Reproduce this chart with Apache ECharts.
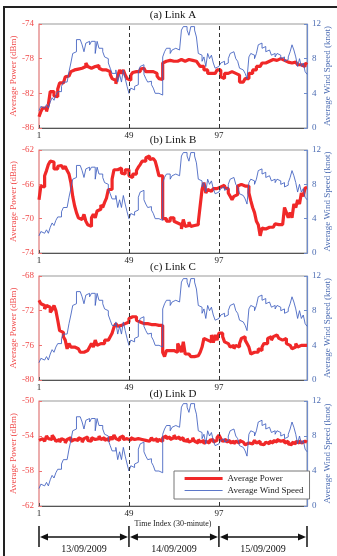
<!DOCTYPE html>
<html>
<head>
<meta charset="utf-8">
<script src="https://cdn.jsdelivr.net/npm/echarts@6/dist/echarts.min.js"></script>
<style>
html,body{margin:0;padding:0;background:#fff;}
#chart{width:337px;height:556px;}
</style>
</head>
<body>
<div id="chart"></div>
<script>
// ---- data (30-minute time index 1..144) ----
const windSpeed = [
 2.0,2.5,2.3,2.3,2.7,2.3,3.0,3.5,3.2,3.8,
 4.2,4.2,4.8,5.3,5.3,5.5,6.5,7.5,8.6,8.8,
 10.2,10.2,10.0,9.6,8.8,9.8,10.0,9.6,10.0,10.0,
 8.6,10.0,9.2,9.2,8.8,8.2,8.0,7.5,6.9,6.3,
 6.3,6.7,5.3,6.2,5.3,6.7,5.7,4.8,4.0,4.6,
 4.4,4.8,5.0,6.5,7.1,7.3,6.2,5.7,5.3,5.4,
 5.0,4.6,4.0,4.0,3.8,3.8,8.2,8.8,9.2,9.2,
 8.6,9.0,9.2,9.2,9.0,8.8,11.3,11.7,11.7,11.3,
 10.7,11.7,11.7,11.3,10.5,8.6,8.4,7.7,8.2,7.1,
 8.6,8.0,8.4,7.5,6.9,7.1,6.9,7.5,7.7,7.3,
 7.5,8.0,8.6,8.8,8.6,8.0,7.7,6.9,6.7,6.5,
 6.3,5.7,8.2,8.6,8.4,8.0,8.6,9.6,9.8,9.2,
 9.4,8.8,9.0,8.8,8.4,8.6,8.2,8.6,8.4,8.0,
 8.2,7.7,7.9,8.2,8.8,9.6,9.0,8.2,7.1,8.0,
 7.1,7.5,6.5,6.2
];
const powerA = [
 -84.7,-84.1,-83.7,-83.7,-84.1,-83.3,-81.8,-81.8,-82.3,-82.4,
 -81.5,-80.8,-80.8,-80.6,-80.1,-80.0,-79.8,-79.5,-79.3,-79.3,
 -79.2,-79.1,-79.1,-78.9,-78.9,-78.5,-78.9,-79.1,-79.0,-78.9,
 -78.7,-78.8,-79.1,-79.3,-79.3,-79.3,-79.3,-79.5,-79.8,-80.3,
 -80.5,-80.9,-80.0,-79.3,-79.7,-79.3,-79.9,-80.3,-80.5,-79.9,
 -79.6,-79.5,-79.3,-79.5,-79.2,-79.1,-79.3,-79.5,-79.5,-79.3,
 -79.5,-79.7,-79.7,-80.0,-80.3,-80.4,-78.5,-78.3,-78.3,-78.2,
 -78.3,-78.3,-78.3,-78.3,-78.1,-78.1,-78.3,-78.3,-78.1,-78.1,
 -78.1,-78.2,-78.2,-78.3,-78.4,-78.6,-78.9,-78.9,-79.3,-79.3,
 -79.7,-79.7,-79.9,-79.7,-79.7,-79.3,-79.3,-80.1,-80.3,-79.7,
 -79.7,-79.5,-79.5,-79.7,-79.7,-79.9,-79.9,-80.7,-80.7,-80.7,
 -80.3,-80.3,-79.7,-79.7,-79.3,-79.3,-78.9,-78.9,-78.7,-78.5,
 -78.5,-78.4,-78.3,-78.1,-78.1,-78.1,-78.2,-78.2,-78.0,-78.0,
 -78.2,-78.3,-78.4,-78.4,-78.5,-78.6,-78.4,-78.4,-78.7,-78.7,
 -78.9,-78.9,-78.5,-78.7
];
const powerB = [
 -67.8,-66.2,-66.3,-65.0,-64.4,-63.7,-63.3,-63.4,-64.2,-64.2,
 -63.9,-63.8,-64.0,-64.2,-63.9,-64.4,-64.8,-65.8,-67.4,-68.5,
 -69.3,-69.9,-70.1,-70.1,-69.5,-70.3,-70.7,-70.9,-69.9,-69.5,
 -69.9,-69.1,-68.9,-68.4,-68.7,-68.1,-67.6,-66.6,-66.6,-65.4,
 -64.3,-64.3,-64.5,-64.1,-64.7,-64.8,-64.3,-64.3,-65.0,-65.2,
 -64.8,-64.8,-64.4,-64.0,-63.7,-63.3,-63.3,-62.9,-62.7,-63.1,
 -63.0,-62.9,-63.3,-64.1,-65.0,-65.0,-70.0,-70.0,-70.3,-70.3,
 -69.9,-69.9,-70.3,-70.5,-70.7,-70.7,-71.2,-70.1,-70.9,-70.8,
 -70.4,-70.9,-70.8,-70.9,-70.7,-70.4,-68.5,-66.6,-65.8,-67.0,
 -66.6,-66.8,-66.6,-66.5,-66.5,-66.3,-66.3,-66.1,-66.1,-66.4,
 -66.5,-67.0,-67.4,-67.8,-67.4,-67.2,-66.2,-66.0,-66.0,-66.2,
 -66.0,-66.2,-67.0,-67.9,-68.7,-69.3,-70.3,-70.7,-72.0,-71.1,
 -71.2,-71.2,-71.0,-71.0,-71.0,-70.8,-70.6,-70.7,-70.9,-70.7,
 -70.6,-68.7,-69.3,-69.9,-69.3,-69.9,-68.3,-68.7,-67.8,-68.3,
 -67.0,-67.4,-66.4,-66.4
];
const powerC = [
 -70.8,-71.2,-71.4,-71.8,-71.4,-71.6,-72.2,-71.9,-71.4,-72.0,
 -73.1,-74.3,-74.5,-75.0,-75.4,-76.4,-75.8,-76.2,-76.2,-76.4,
 -76.4,-76.6,-76.8,-76.8,-76.8,-76.6,-76.4,-76.2,-75.8,-76.2,
 -75.4,-76.0,-75.8,-75.6,-75.8,-75.4,-75.4,-75.4,-75.0,-74.6,
 -73.9,-73.5,-73.8,-73.7,-73.7,-73.5,-73.5,-73.3,-72.9,-72.7,
 -72.5,-72.7,-73.1,-73.3,-73.3,-73.5,-73.3,-73.5,-73.5,-73.6,
 -73.6,-73.6,-73.7,-73.7,-73.7,-73.7,-76.8,-77.3,-76.6,-76.6,
 -76.6,-76.6,-76.4,-76.8,-75.8,-76.2,-76.8,-75.6,-77.0,-77.0,
 -77.2,-77.3,-77.3,-77.3,-77.2,-77.0,-76.8,-76.2,-75.2,-75.4,
 -75.2,-75.6,-74.8,-75.7,-74.8,-75.4,-74.6,-74.6,-75.0,-75.6,
 -75.8,-75.8,-76.2,-76.0,-76.4,-76.0,-76.2,-75.8,-75.2,-75.0,
 -75.4,-75.8,-76.2,-77.0,-76.8,-76.6,-76.8,-76.4,-76.6,-76.2,
 -75.8,-75.8,-75.2,-75.0,-75.4,-75.0,-74.8,-75.0,-75.2,-75.4,
 -75.4,-75.2,-75.8,-76.0,-76.2,-76.4,-76.2,-75.8,-76.2,-76.0,
 -75.8,-76.0,-76.0,-76.0
];
const powerD = [
 -54.5,-54.3,-54.2,-54.6,-54.0,-54.3,-54.4,-53.9,-54.2,-54.6,
 -54.4,-54.7,-54.3,-54.5,-54.8,-54.4,-54.2,-54.6,-54.4,-54.3,
 -54.5,-54.2,-54.4,-54.7,-54.3,-54.1,-54.5,-54.6,-54.2,-54.4,
 -54.6,-54.3,-54.0,-54.4,-54.2,-54.5,-54.3,-54.6,-54.1,-54.4,
 -53.9,-54.3,-54.5,-54.2,-54.0,-54.4,-54.3,-54.1,-54.5,-54.2,
 -54.4,-54.6,-54.3,-54.1,-54.4,-54.2,-54.5,-54.3,-54.6,-54.4,
 -54.2,-54.5,-54.3,-54.7,-54.4,-54.6,-54.2,-54.0,-54.3,-54.1,
 -54.4,-54.2,-53.9,-54.3,-54.1,-54.4,-54.2,-54.5,-54.6,-54.3,
 -54.7,-54.5,-54.2,-54.6,-54.8,-54.4,-54.7,-54.5,-54.9,-54.6,
 -54.8,-54.5,-54.4,-54.7,-54.5,-54.2,-53.9,-54.3,-54.6,-54.4,
 -54.7,-54.5,-54.8,-54.6,-54.9,-54.6,-54.8,-54.5,-54.7,-54.9,
 -55.0,-54.8,-54.6,-54.9,-54.7,-54.5,-54.8,-54.6,-54.9,-55.0,
 -54.8,-54.7,-54.9,-54.6,-54.8,-54.5,-54.7,-54.4,-54.6,-54.8,
 -54.5,-54.8,-54.6,-54.9,-55.0,-54.7,-54.9,-54.6,-54.8,-54.5,
 -54.8,-54.6,-54.7,-54.5
];
const panelTitles = ['(a) Link A', '(b) Link B', '(c) Link C', '(d) Link D'];
const powerTicks = [[-86,-82,-78,-74], [-74,-70,-66,-62], [-80,-76,-72,-68], [-62,-58,-54,-50]];
const windTicks = [0, 4, 8, 12];
const xTicks = [1, 49, 97];
const dayBounds = [1, 49, 97, 144];
const dayLabels = ['13/09/2009', '14/09/2009', '15/09/2009'];
const powerSeries = [powerA, powerB, powerC, powerD];

// ---- styles / layout ----
const FONT = "'Liberation Serif','DejaVu Serif',serif";
const RED = '#f02828';
const RED_TXT = '#f04a4a';
const BLUE = '#3f5fbf';
const BLUE_TXT = '#4d6db3';
const gridTops = [24, 150, 276, 401];
const gridHeights = [104, 103, 104, 105];

const chart = echarts.init(document.getElementById('chart'), null, {renderer: 'canvas'});

const grids = [], xAxes = [], yAxes = [], series = [];
for (let i = 0; i < 4; i++) {
  grids.push({left: 39, right: 30, top: gridTops[i], height: gridHeights[i],
    show: true, borderColor: '#999', borderWidth: 1, backgroundColor: 'transparent',
    containLabel: false, outerBoundsMode: 'none'});
  xAxes.push({type: 'value', gridIndex: i, min: 1, max: 144,
    axisLine: {show: true, onZero: false, lineStyle: {color: '#555', width: 1}},
    axisTick: {show: true, inside: true, length: 3, customValues: xTicks, lineStyle: {color: '#555'}},
    axisLabel: {customValues: xTicks, color: '#222', fontSize: 9, fontFamily: FONT, margin: 3},
    splitLine: {show: false},
    name: i === 3 ? 'Time Index (30-minute)' : '', nameLocation: 'middle', nameGap: 14,
    nameMoveOverlap: false,
    nameTextStyle: {color: '#222', fontSize: 8, fontFamily: FONT}
  });
  const pt = powerTicks[i];
  yAxes.push({type: 'value', gridIndex: i, position: 'left', min: pt[0], max: pt[3],
    axisLine: {show: true, lineStyle: {color: '#f7a3a3', width: 1.5}},
    axisTick: {show: true, inside: true, length: 3, customValues: pt, lineStyle: {color: '#f07070'}},
    axisLabel: {customValues: pt, color: RED_TXT, fontSize: 9, fontFamily: FONT, margin: 5},
    splitLine: {show: false},
    name: 'Average Power (dBm)', nameLocation: 'middle', nameGap: 21, nameRotate: 90,
    nameMoveOverlap: false,
    nameTextStyle: {color: RED_TXT, fontSize: 9, fontFamily: FONT}
  });
  yAxes.push({type: 'value', gridIndex: i, position: 'right', min: 0, max: 12, interval: 4,
    axisLine: {show: true, lineStyle: {color: '#6f8ccc', width: 1.2}},
    axisTick: {show: true, inside: true, length: 3, lineStyle: {color: '#6f8ccc'}},
    axisLabel: {color: BLUE_TXT, fontSize: 9, fontFamily: FONT, margin: 5},
    splitLine: {show: false},
    name: 'Average Wind Speed (knot)', nameLocation: 'middle', nameGap: 16, nameRotate: 90,
    nameMoveOverlap: false,
    nameTextStyle: {color: BLUE_TXT, fontSize: 9, fontFamily: FONT}
  });
  const p = powerSeries[i];
  series.push({name: 'Average Power', type: 'line', xAxisIndex: i, yAxisIndex: 2 * i,
    step: 'end', symbol: 'none', animation: false, z: 3,
    data: p.map((v, k) => [k + 1, v]),
    lineStyle: {color: RED, width: 3.2}, itemStyle: {color: RED},
    markLine: {silent: true, symbol: ['none', 'none'], label: {show: false}, animation: false,
      lineStyle: {type: [4, 3], color: '#333', width: 1},
      data: xTicks.slice(1).map(v => ({xAxis: v}))}
  });
  series.push({name: 'Average Wind Speed', type: 'line', xAxisIndex: i, yAxisIndex: 2 * i + 1,
    step: 'end', symbol: 'none', animation: false, z: 4,
    data: windSpeed.map((v, k) => [k + 1, v]),
    lineStyle: {color: BLUE, width: 1, opacity: 0.85}, itemStyle: {color: BLUE}
  });
}

chart.setOption({
  animation: false,
  backgroundColor: '#fff',
  grid: grids, xAxis: xAxes, yAxis: yAxes, series: series,
  legend: {data: ['Average Power', 'Average Wind Speed'], orient: 'vertical',
    left: 174, top: 471, itemWidth: 38, itemHeight: 10, itemGap: 3,
    padding: [3, 6, 4, 9], backgroundColor: '#fff', borderColor: '#777', borderWidth: 1, borderRadius: 0,
    lineStyle: {width: 'inherit'}, itemStyle: {opacity: 0, borderWidth: 0}, selectedMode: false, z: 10,
    textStyle: {fontFamily: FONT, fontSize: 9, color: '#222'}}
});

// annotations positioned through the axis scale
const xs = dayBounds.map(v => chart.convertToPixel({xAxisIndex: 3}, v));
const midX = chart.convertToPixel({xAxisIndex: 0}, 72.5);
const titleYs = [15, 140, 267, 394];
const graphics = [];
graphics.push({type: 'rect', shape: {x: 4, y: 7, width: 420, height: 620}, silent: true,
  style: {fill: 'none', stroke: '#222', lineWidth: 2}, z: 20});
panelTitles.forEach((t, i) => graphics.push({type: 'text', x: midX, y: titleYs[i], silent: true,
  style: {text: t, fill: '#111', font: '11px ' + FONT, textAlign: 'center', textVerticalAlign: 'middle'}}));
const yArrow = 537;
xs.forEach(x => graphics.push({type: 'line', silent: true,
  shape: {x1: x, y1: 526, x2: x, y2: 547}, style: {stroke: '#111', lineWidth: 1.5}}));
for (let d = 0; d < 3; d++) {
  const x0 = xs[d] + 1, x1 = xs[d + 1] - 1;
  graphics.push({type: 'line', silent: true, shape: {x1: x0 + 4, y1: yArrow, x2: x1 - 4, y2: yArrow},
    style: {stroke: '#111', lineWidth: 1.5}});
  graphics.push({type: 'polygon', silent: true, shape: {points: [[x0, yArrow], [x0 + 8, yArrow - 3.5], [x0 + 8, yArrow + 3.5]]},
    style: {fill: '#111'}});
  graphics.push({type: 'polygon', silent: true, shape: {points: [[x1, yArrow], [x1 - 8, yArrow - 3.5], [x1 - 8, yArrow + 3.5]]},
    style: {fill: '#111'}});
  graphics.push({type: 'text', silent: true, x: (xs[d] + xs[d + 1]) / 2, y: 549,
    style: {text: dayLabels[d], fill: '#111', font: '10px ' + FONT, textAlign: 'center', textVerticalAlign: 'middle'}});
}
chart.setOption({graphic: graphics});
</script>
</body>
</html>
